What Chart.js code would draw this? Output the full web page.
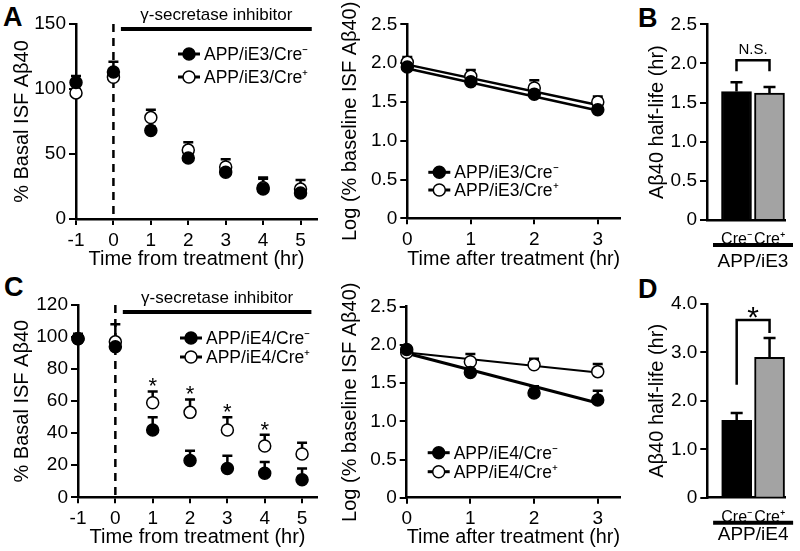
<!DOCTYPE html>
<html>
<head>
<meta charset="utf-8">
<script src="https://cdn.jsdelivr.net/npm/chart.js@4"></script>
<style>
  body { margin: 0; background: #fff; width: 800px; height: 551px; overflow: hidden; position: relative; }
  canvas { position: absolute; }
  .lbl { position: absolute; font: bold 27px "Liberation Sans", Arial, sans-serif; line-height: 27px; }
</style>
</head>
<body>
<div class="lbl" style="left:3px;top:4px">A</div>
<div class="lbl" style="left:638px;top:5px">B</div>
<div class="lbl" style="left:4px;top:274px">C</div>
<div class="lbl" style="left:638px;top:276px">D</div>

<canvas id="aTime" width="330" height="275" style="left:0;top:0"></canvas>
<canvas id="aLog" width="300" height="275" style="left:330px;top:0"></canvas>
<canvas id="bHalf" width="160" height="275" style="left:640px;top:0"></canvas>
<canvas id="cTime" width="330" height="275" style="left:0;top:278px"></canvas>
<canvas id="cLog" width="300" height="275" style="left:330px;top:278px"></canvas>
<canvas id="dHalf" width="160" height="275" style="left:640px;top:278px"></canvas>

<script>
const timePoints = [-1, 0, 1, 2, 3, 4, 5];
const logTimes = [0, 1, 2, 3];
const groups = ['Cre\u207B', 'Cre\u207A'];
const pctTicksA = [0, 50, 100, 150];
const pctTicksC = [0, 20, 40, 60, 80, 100, 120];
const logTicks = [0, 0.5, 1, 1.5, 2, 2.5];
const halfTicksB = [0, 0.5, 1, 1.5, 2, 2.5];
const halfTicksD = [0, 1, 2, 3, 4];

// APP/iE3
const e3Series = ['APP/iE3/Cre\u207B', 'APP/iE3/Cre\u207A'];
const e3CreNeg = [105, 113, 68, 47, 36, 23, 20];
const e3CreNegErr = [5, 8, 3, 3, 4, 9, 5];
const e3CrePos = [97, 109, 78, 53, 40, 24, 23];
const e3CrePosErr = [3, 5, 6, 6, 6, 7, 7];
const e3LogNeg = [1.95, 1.76, 1.60, 1.40];
const e3LogNegErr = [0.04, 0.03, 0.03, 0.03];
const e3LogPos = [2.01, 1.83, 1.68, 1.50];
const e3LogPosErr = [0.07, 0.08, 0.10, 0.07];
const e3FitNeg = [1.93, 1.39];
const e3FitPos = [1.98, 1.46];
const e3HalfLife = [1.64, 1.62];
const e3HalfLifeErr = [0.12, 0.08];

// APP/iE4
const e4Series = ['APP/iE4/Cre\u207B', 'APP/iE4/Cre\u207A'];
const e4CreNeg = [99, 94, 42, 23, 18, 15, 11];
const e4CreNegErr = [3, 4, 8, 6, 8, 7, 7];
const e4CrePos = [99, 97, 59, 53, 42, 32, 27];
const e4CrePosErr = [2, 11, 7, 8, 8, 7, 7];
const e4Stars = ['', '', '*', '*', '*', '*', ''];
const e4LogNeg = [1.94, 1.64, 1.37, 1.28];
const e4LogNegErr = [0.03, 0.04, 0.09, 0.12];
const e4LogPos = [1.90, 1.78, 1.74, 1.65];
const e4LogPosErr = [0.03, 0.10, 0.08, 0.10];
const e4FitNeg = [1.89, 1.24];
const e4FitPos = [1.90, 1.64];
const e4HalfLife = [1.6, 2.9];
const e4HalfLifeErr = [0.15, 0.4];

const FONT = '"Liberation Sans", Arial, sans-serif';
Chart.defaults.font.family = FONT;
Chart.defaults.color = '#000';

function drawErrors(chart, cap) {
    const ctx = chart.ctx, ys = chart.scales.y;
    chart.data.datasets.forEach((ds, i) => {
        if (!ds.err) return;
        const meta = chart.getDatasetMeta(i);
        meta.data.forEach((el, j) => {
            const top = ys.getPixelForValue(ds.data[j].y + ds.err[j]);
            ctx.save();
            ctx.strokeStyle = '#000';
            ctx.lineWidth = 2.5;
            ctx.beginPath();
            ctx.moveTo(el.x, el.y);
            ctx.lineTo(el.x, top);
            ctx.moveTo(el.x - cap, top);
            ctx.lineTo(el.x + cap, top);
            ctx.stroke();
            if (ds.stars && ds.stars[j]) {
                ctx.fillStyle = '#000';
                ctx.font = '22px ' + FONT;
                ctx.textAlign = 'center';
                ctx.textBaseline = 'alphabetic';
                ctx.fillText(ds.stars[j], el.x, top - 11 + 0.58 * 22);
            }
            ctx.restore();
        });
    });
}

function extras(cfg) {
    return {
        id: 'extras',
        beforeDatasetsDraw(chart) {
            const ctx = chart.ctx, a = chart.chartArea, xs = chart.scales.x;
            if (cfg.dashAt !== undefined) {
                const x = xs.getPixelForValue(cfg.dashAt);
                ctx.save();
                ctx.strokeStyle = '#000';
                ctx.lineWidth = 2.5;
                ctx.setLineDash([8, 6]);
                ctx.beginPath();
                ctx.moveTo(x, a.top);
                ctx.lineTo(x, a.bottom);
                ctx.stroke();
                ctx.restore();
            }
            if (!cfg.bars) drawErrors(chart, 5);
        },
        afterDatasetsDraw(chart) {
            if (cfg.bars) drawErrors(chart, 6);
        },
        afterDraw(chart) {
            const ctx = chart.ctx, a = chart.chartArea, xs = chart.scales.x, ys = chart.scales.y;
            ctx.save();
            ctx.fillStyle = '#000';
            ctx.strokeStyle = '#000';
            if (cfg.inhibitor) {
                const inh = cfg.inhibitor;
                const x1 = xs.getPixelForValue(inh.from), x2 = xs.getPixelForValue(inh.to);
                const y = a.top + inh.dy;
                ctx.lineWidth = 4;
                ctx.beginPath();
                ctx.moveTo(x1, y);
                ctx.lineTo(x2, y);
                ctx.stroke();
                ctx.font = '17px ' + FONT;
                ctx.textAlign = 'center';
                ctx.textBaseline = 'middle';
                ctx.fillText(inh.text, (x1 + x2) / 2, y - 14);
            }
            if (cfg.legend) {
                const lg = cfg.legend;
                lg.items.forEach((label, i) => {
                    const x = a.left + lg.x, y = a.top + lg.y + i * lg.gap;
                    ctx.lineWidth = 3;
                    ctx.beginPath();
                    ctx.moveTo(x, y);
                    ctx.lineTo(x + 22, y);
                    ctx.stroke();
                    ctx.beginPath();
                    ctx.arc(x + 11, y, 6, 0, Math.PI * 2);
                    ctx.fillStyle = i === 0 ? '#000' : '#fff';
                    ctx.fill();
                    ctx.lineWidth = 1.5;
                    ctx.stroke();
                    ctx.fillStyle = '#000';
                    ctx.font = '17.5px ' + FONT;
                    ctx.textAlign = 'left';
                    ctx.textBaseline = 'middle';
                    ctx.fillText(label, x + 26, y + 1);
                });
            }
            if (cfg.bracket) {
                const br = cfg.bracket;
                const x1 = xs.getPixelForValue(1), x2 = xs.getPixelForValue(2);
                const yt = ys.getPixelForValue(br.top);
                ctx.lineWidth = 2.5;
                ctx.beginPath();
                ctx.moveTo(x1, ys.getPixelForValue(br.left));
                ctx.lineTo(x1, yt);
                ctx.lineTo(x2, yt);
                ctx.lineTo(x2, ys.getPixelForValue(br.right));
                ctx.stroke();
                ctx.font = br.size + 'px ' + FONT;
                ctx.textAlign = 'center';
                ctx.textBaseline = 'alphabetic';
                ctx.fillText(br.text, (x1 + x2) / 2, yt - br.gap);
            }
            if (cfg.group) {
                const cx = (xs.getPixelForValue(1) + xs.getPixelForValue(2)) / 2;
                const y = a.bottom + 25;
                ctx.lineWidth = 4;
                ctx.beginPath();
                ctx.moveTo(cx - 40, y);
                ctx.lineTo(cx + 40, y);
                ctx.stroke();
                ctx.font = '19px ' + FONT;
                ctx.textAlign = 'center';
                ctx.textBaseline = 'middle';
                ctx.fillText(cfg.group.text, cx, a.bottom + cfg.group.dy);
            }
            ctx.restore();
        }
    };
}

function yAxis(o) {
    return {
        min: o.yMin, max: o.yMax,
        afterBuildTicks: s => { s.ticks = o.yTicks.map(v => ({ value: v })); },
        afterFit: s => { s.width = o.yWidth; },
        grid: { drawOnChartArea: false, color: '#000', lineWidth: 2, tickLength: 7 },
        border: { color: '#000', width: 2.5 },
        ticks: { color: '#000', font: { size: 19 }, padding: 3, callback: o.yFmt },
        title: { display: true, text: o.yTitle, color: '#000', font: { size: 20 }, padding: { top: o.yTitlePad } }
    };
}

function xAxis(o) {
    return {
        type: 'linear',
        min: o.xMin, max: o.xMax,
        afterBuildTicks: s => { s.ticks = o.xTicks.map(v => ({ value: v })); },
        afterFit: s => { s.height = o.xHeight; },
        grid: { drawOnChartArea: false, color: '#000', lineWidth: 2, tickLength: 6 },
        border: { color: '#000', width: 2.5 },
        ticks: { color: '#000', font: { size: 19 }, padding: 4, maxRotation: 0, autoSkip: false },
        title: { display: true, text: o.xTitle, color: '#000', font: { size: 20 }, padding: { bottom: 4 } }
    };
}

function pts(xs, ys, err, filled, stars) {
    return {
        data: xs.map((x, i) => ({ x: x, y: ys[i] })),
        err: err,
        stars: stars,
        clip: false,
        pointRadius: 6,
        pointBackgroundColor: filled ? '#000' : '#fff',
        pointBorderColor: '#000',
        pointBorderWidth: 1.5,
        showLine: false
    };
}

function fit(xs, ends, width) {
    return {
        data: [{ x: xs[0], y: ends[0] }, { x: xs[xs.length - 1], y: ends[1] }],
        showLine: true,
        clip: false,
        pointRadius: 0,
        borderColor: '#000',
        borderWidth: width
    };
}

function scatterChart(id, o) {
    return new Chart(document.getElementById(id), {
        type: 'scatter',
        data: { datasets: o.datasets },
        options: {
            responsive: false,
            animation: false,
            events: [],
            layout: { padding: { top: o.padTop, right: o.padRight, left: 0, bottom: 0 } },
            plugins: { legend: { display: false }, tooltip: { enabled: false } },
            scales: { x: xAxis(o), y: yAxis(o) }
        },
        plugins: [extras(o)]
    });
}

function barChart(id, o) {
    return new Chart(document.getElementById(id), {
        type: 'bar',
        data: {
            datasets: [{
                data: groups.map((g, i) => ({ x: i + 1, y: o.values[i] })),
                err: o.errors,
                backgroundColor: ['#000', '#a3a3a3'],
                borderColor: '#000',
                borderWidth: 2,
                barThickness: 30
            }]
        },
        options: {
            responsive: false,
            animation: false,
            events: [],
            layout: { padding: { top: o.padTop, right: o.padRight, left: 0, bottom: 0 } },
            plugins: { legend: { display: false }, tooltip: { enabled: false } },
            scales: {
                x: {
                    type: 'linear',
                    offset: false,
                    min: 0.106, max: 2.47,
                    afterBuildTicks: s => { s.ticks = [{ value: 1 }, { value: 2 }]; },
                    afterFit: s => { s.height = o.xHeight; },
                    grid: { display: false, offset: false },
                    border: { color: '#000', width: 2.5 },
                    ticks: { color: '#000', font: { size: 16 }, padding: 2, maxRotation: 0, autoSkip: false,
                             callback: v => groups[v - 1] }
                },
                y: yAxis(o)
            }
        },
        plugins: [extras(o)]
    });
}

const fmt1 = v => v === 0 ? '0' : v.toFixed(1);

scatterChart('aTime', {
    datasets: [
        pts(timePoints, e3CreNeg, e3CreNegErr, true),
        pts(timePoints, e3CrePos, e3CrePosErr, false)
    ],
    padTop: 24, padRight: 13, xHeight: 56, yWidth: 76, yTitlePad: 10,
    xMin: -1, xMax: 5.44, xTicks: timePoints, xTitle: 'Time from treatment (hr)',
    yMin: 0, yMax: 150, yTicks: pctTicksA, yTitle: '% Basal ISF A\u03B240',
    dashAt: 0,
    inhibitor: { from: 0.2, to: 5.3, dy: 5, text: '\u03B3-secretase inhibitor' },
    legend: { x: 102, y: 30, gap: 23, items: e3Series }
});

scatterChart('aLog', {
    datasets: [
        pts(logTimes, e3LogNeg, e3LogNegErr, true),
        pts(logTimes, e3LogPos, e3LogPosErr, false),
        fit(logTimes, e3FitNeg, 2.5),
        fit(logTimes, e3FitPos, 2.5)
    ],
    padTop: 24.3, padRight: 10, xHeight: 56.7, yWidth: 77.3, yTitlePad: 8,
    xMin: 0, xMax: 3.35, xTicks: logTimes, xTitle: 'Time after treatment (hr)',
    yMin: 0, yMax: 2.5, yTicks: logTicks, yFmt: fmt1, yTitle: 'Log (% baseline ISF A\u03B240)',
    legend: { x: 21, y: 148, gap: 17.7, items: e3Series }
});

barChart('bHalf', {
    values: e3HalfLife, errors: e3HalfLifeErr, bars: true,
    padTop: 24.3, padRight: 15, xHeight: 55, yWidth: 67, yTitlePad: 5,
    yMin: 0, yMax: 2.5, yTicks: halfTicksB, yFmt: fmt1, yTitle: 'A\u03B240 half-life (hr)',
    bracket: { top: 2.04, left: 1.90, right: 1.90, text: 'N.S.', size: 15, gap: 6 },
    group: { text: 'APP/iE3', dy: 41.5 }
});

scatterChart('cTime', {
    datasets: [
        pts(timePoints, e4CreNeg, e4CreNegErr, true),
        pts(timePoints, e4CrePos, e4CrePosErr, false, e4Stars)
    ],
    padTop: 27, padRight: 13, xHeight: 55.7, yWidth: 78, yTitlePad: 10,
    xMin: -1, xMax: 5.4, xTicks: timePoints, xTitle: 'Time from treatment (hr)',
    yMin: 0, yMax: 120, yTicks: pctTicksC, yTitle: '% Basal ISF A\u03B240',
    dashAt: 0,
    inhibitor: { from: 0.2, to: 5.25, dy: 7, text: '\u03B3-secretase inhibitor' },
    legend: { x: 102, y: 33, gap: 19, items: e4Series }
});

scatterChart('cLog', {
    datasets: [
        pts(logTimes, e4LogNeg, e4LogNegErr, true),
        pts(logTimes, e4LogPos, e4LogPosErr, false),
        fit(logTimes, e4FitNeg, 3),
        fit(logTimes, e4FitPos, 2)
    ],
    padTop: 28.7, padRight: 10, xHeight: 55.3, yWidth: 76.7, yTitlePad: 8,
    xMin: 0, xMax: 3.35, xTicks: logTimes, xTitle: 'Time after treatment (hr)',
    yMin: 0, yMax: 2.5, yTicks: logTicks, yFmt: fmt1, yTitle: 'Log (% baseline ISF A\u03B240)',
    legend: { x: 21, y: 146, gap: 19, items: e4Series }
});

barChart('dHalf', {
    values: e4HalfLife, errors: e4HalfLifeErr, bars: true,
    padTop: 26, padRight: 15, xHeight: 55.3, yWidth: 67.3, yTitlePad: 5,
    yMin: 0, yMax: 4, yTicks: halfTicksD, yFmt: fmt1, yTitle: 'A\u03B240 half-life (hr)',
    bracket: { top: 3.67, left: 2.33, right: 3.40, text: '*', size: 30, gap: 10 - 0.58 * 30 },
    group: { text: 'APP/iE4', dy: 37.5 }
});
</script>
</body>
</html>
